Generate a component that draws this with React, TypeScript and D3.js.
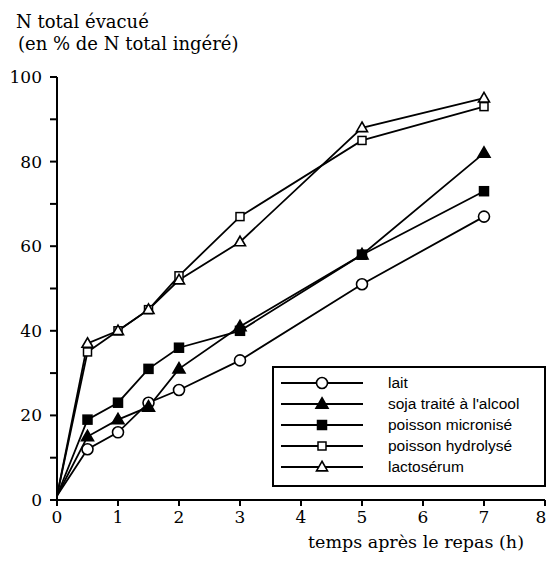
import React, { useEffect, useRef } from 'react';
import * as d3 from 'd3';

// hours after the meal
const hours = [0, 0.5, 1, 1.5, 2, 3, 5, 7];

// N total évacué (% of N ingested)
const lait = [1, 12, 16, 23, 26, 33, 51, 67];
const soja = [1, 15, 19, 22, 31, 41, 58, 82];
const poissonMicronise = [1, 19, 23, 31, 36, 40, 58, 73];
const poissonHydrolyse = [1, 35, 40, 45, 53, 67, 85, 93];
const lactoserum = [1, 37, 40, 45, 52, 61, 88, 95];

const xTicks = [0, 1, 2, 3, 4, 5, 6, 7, 8];
const yTicks = [0, 20, 40, 60, 80, 100];
const yMinorTicks = [10, 30, 50, 70, 90];

type Marker = 'circle' | 'triFill' | 'sqFill' | 'sqOpen' | 'triOpen';

const series: { name: string; values: number[]; marker: Marker }[] = [
  { name: 'lait', values: lait, marker: 'circle' },
  { name: "soja traité à l'alcool", values: soja, marker: 'triFill' },
  { name: 'poisson micronisé', values: poissonMicronise, marker: 'sqFill' },
  { name: 'poisson hydrolysé', values: poissonHydrolyse, marker: 'sqOpen' },
  { name: 'lactosérum', values: lactoserum, marker: 'triOpen' },
];

const W = 548;
const H = 568;
const SERIF = '"DejaVu Serif", serif';
const SANS = '"Liberation Sans", Arial, sans-serif';

export default function App() {
  const svgRef = useRef<SVGSVGElement>(null);

  useEffect(() => {
    if (!svgRef.current) return;
    const svg = d3.select(svgRef.current);
    svg.selectAll('*').remove();

    const x = d3.scaleLinear().domain([0, 8]).range([57, 545]);
    const y = d3.scaleLinear().domain([0, 100]).range([500, 77]);

    // draw a marker at (cx, cy)
    const drawMarker = (g: d3.Selection<SVGGElement, unknown, null, undefined>, m: Marker, cx: number, cy: number) => {
      if (m === 'circle') {
        g.append('circle').attr('cx', cx).attr('cy', cy).attr('r', 5.5)
          .attr('fill', '#fff').attr('stroke', '#000').attr('stroke-width', 1.6);
      } else if (m === 'triFill' || m === 'triOpen') {
        const s = m === 'triFill' ? 12 : 11;
        const h = s * 0.87;
        g.append('path')
          .attr('d', `M${cx},${cy - h * 0.6}L${cx + s / 2},${cy + h * 0.4}L${cx - s / 2},${cy + h * 0.4}Z`)
          .attr('fill', m === 'triFill' ? '#000' : '#fff')
          .attr('stroke', '#000').attr('stroke-width', 1.6).attr('stroke-linejoin', 'miter');
      } else {
        const s = m === 'sqFill' ? 9 : 8;
        g.append('rect').attr('x', cx - s / 2).attr('y', cy - s / 2).attr('width', s).attr('height', s)
          .attr('fill', m === 'sqFill' ? '#000' : '#fff')
          .attr('stroke', '#000').attr('stroke-width', 1.5);
      }
    };

    /* ── Titles ─────────────────────────────────────────── */
    svg.append('text').attr('x', 16).attr('y', 28)
      .attr('font-family', SERIF).attr('font-size', 18).text('N total évacué');
    svg.append('text').attr('x', 18).attr('y', 50)
      .attr('font-family', SERIF).attr('font-size', 18).text('(en % de N total ingéré)');
    svg.append('text').attr('x', 416).attr('y', 548).attr('text-anchor', 'middle')
      .attr('font-family', SERIF).attr('font-size', 17.5).text('temps après le repas (h)');

    /* ── Axes ───────────────────────────────────────────── */
    const ax = svg.append('g').attr('stroke', '#000').attr('stroke-width', 2);
    ax.append('line').attr('x1', x(0)).attr('x2', x(0)).attr('y1', y(100)).attr('y2', y(0));
    ax.append('line').attr('x1', x(0)).attr('x2', x(8)).attr('y1', y(0)).attr('y2', y(0));
    [...yTicks, ...yMinorTicks].forEach(v => {
      ax.append('line').attr('x1', x(0) - 7).attr('x2', x(0)).attr('y1', y(v)).attr('y2', y(v));
    });
    xTicks.forEach(v => {
      ax.append('line').attr('x1', x(v)).attr('x2', x(v)).attr('y1', y(0)).attr('y2', y(0) + 6);
    });

    yTicks.forEach(v => {
      svg.append('text').attr('x', 42).attr('y', y(v)).attr('dy', '0.35em')
        .attr('text-anchor', 'end').attr('font-family', SERIF).attr('font-size', 17).text(v);
    });
    xTicks.forEach(v => {
      // keep the last label inside the picture
      const lx = Math.min(x(v), W - 7);
      svg.append('text').attr('x', lx).attr('y', 523)
        .attr('text-anchor', 'middle').attr('font-family', SERIF).attr('font-size', 17).text(v);
    });

    /* ── Series ─────────────────────────────────────────── */
    const line = d3.line<number>().x((_, i) => x(hours[i])).y(d => y(d));
    series.forEach(s => {
      svg.append('path').attr('d', line(s.values)!)
        .attr('fill', 'none').attr('stroke', '#000').attr('stroke-width', 1.8);
    });
    series.forEach(s => {
      const g = svg.append('g');
      s.values.forEach((v, i) => {
        if (i === 0) return;
        drawMarker(g, s.marker, x(hours[i]), y(v));
      });
    });

    /* ── Legend ─────────────────────────────────────────── */
    const lg = svg.append('g');
    lg.append('rect').attr('x', 273).attr('y', 367).attr('width', 272).attr('height', 119)
      .attr('fill', '#fff').attr('stroke', '#000').attr('stroke-width', 2);
    series.forEach((s, i) => {
      const ry = 383 + i * 21;
      lg.append('line').attr('x1', 281).attr('x2', 363).attr('y1', ry).attr('y2', ry)
        .attr('stroke', '#000').attr('stroke-width', 1.8);
      drawMarker(lg, s.marker, 322, ry);
      lg.append('text').attr('x', 388).attr('y', ry).attr('dy', '0.35em')
        .attr('font-family', SANS).attr('font-size', 15.5).text(s.name);
    });
  }, []);

  return (
    <div style={{ position: 'absolute', left: 0, top: 0, background: '#fff' }}>
      <svg ref={svgRef} width={W} height={H} style={{ display: 'block' }} />
    </div>
  );
}
